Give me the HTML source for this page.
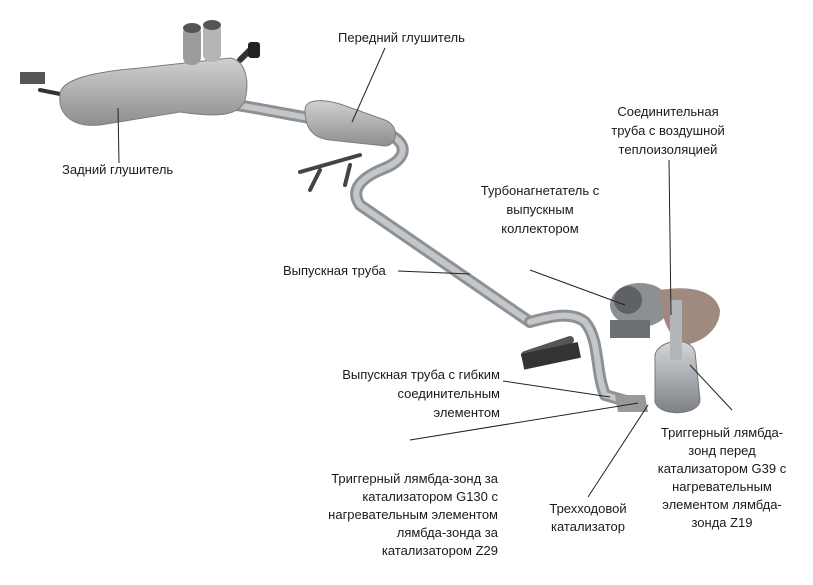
<!DOCTYPE html>
<html><head><meta charset="utf-8">
<style>
html,body{margin:0;padding:0;background:#fff;}
body{width:813px;height:585px;position:relative;overflow:hidden;font-family:"Liberation Sans","Noto Sans CJK SC",sans-serif;}
.t{position:absolute;font-size:13px;line-height:19px;color:#1a1a1a;white-space:nowrap;}
.c{text-align:center}.r{text-align:right}
svg{position:absolute;left:0;top:0}
</style></head><body>
<svg width="813" height="585" viewBox="0 0 813 585">
<defs>
<linearGradient id="g" x1="0" y1="0" x2="0" y2="1"><stop offset="0" stop-color="#d4d6d8"/><stop offset="0.5" stop-color="#a9adb1"/><stop offset="1" stop-color="#7c8186"/></linearGradient>
<linearGradient id="m" x1="0" y1="0" x2="0" y2="1"><stop offset="0" stop-color="#cfd0cf"/><stop offset="1" stop-color="#8e8f8d"/></linearGradient>
</defs>
<g fill="none" stroke-linecap="round" stroke-linejoin="round">
<!-- pipes -->
<path d="M175 103 C220 98 260 110 310 118" stroke="#8d9196" stroke-width="12"/>
<path d="M175 103 C220 98 260 110 310 118" stroke="#c4c7ca" stroke-width="6"/>
<path d="M390 135 C410 145 405 160 385 168 C360 178 350 190 360 205 L530 322" stroke="#8d9196" stroke-width="12"/>
<path d="M390 135 C410 145 405 160 385 168 C360 178 350 190 360 205 L530 322" stroke="#c4c7ca" stroke-width="6"/>
<path d="M530 322 C545 318 570 310 585 322 C600 340 595 370 605 395 L640 405" stroke="#8d9196" stroke-width="12"/>
<path d="M530 322 C545 318 570 310 585 322 C600 340 595 370 605 395 L640 405" stroke="#c4c7ca" stroke-width="6"/>
<path d="M40 90 L65 95" stroke="#333" stroke-width="4"/>
<path d="M240 60 L250 50" stroke="#333" stroke-width="6"/>
<path d="M300 172 L360 155 M310 190 L320 170 M345 185 L350 165" stroke="#444" stroke-width="4"/>
<path d="M525 355 L570 340" stroke="#555" stroke-width="8"/>
</g>
<!-- rear muffler -->
<path d="M60 95 C60 80 90 72 140 68 L230 58 C245 60 250 80 245 100 C240 115 220 118 180 112 L100 125 C70 128 58 112 60 95 Z" fill="url(#m)" stroke="#7d7e7c"/>
<rect x="183" y="25" width="18" height="40" rx="8" fill="#9a9c9e"/>
<rect x="203" y="22" width="18" height="40" rx="8" fill="#b3b5b7"/>
<ellipse cx="192" cy="28" rx="9" ry="5" fill="#555"/>
<ellipse cx="212" cy="25" rx="9" ry="5" fill="#555"/>
<rect x="248" y="42" width="12" height="16" rx="3" fill="#222"/>
<rect x="20" y="72" width="25" height="12" fill="#555"/>
<!-- front muffler -->
<path d="M305 110 C305 100 320 98 340 104 L385 120 C400 126 398 145 385 146 L330 140 C310 138 305 125 305 110 Z" fill="url(#m)" stroke="#7d7e7c"/>
<rect x="522" y="348" width="58" height="16" fill="#333" transform="rotate(-12 550 356)"/>
<!-- turbo & manifold -->
<ellipse cx="640" cy="305" rx="30" ry="22" fill="#8c8f93"/>
<ellipse cx="628" cy="300" rx="14" ry="14" fill="#5e6166"/>
<rect x="610" y="320" width="40" height="18" fill="#6d7075"/>
<path d="M660 290 C690 285 715 290 720 310 C720 330 700 345 680 345 C670 335 660 320 660 290 Z" fill="#a08a80"/>
<!-- catalytic converter -->
<path d="M655 355 C658 340 690 335 695 352 L700 400 C700 415 660 418 655 402 Z" fill="url(#g)" stroke="#777"/>
<rect x="670" y="300" width="12" height="60" fill="#b3b6b9"/>
<path d="M615 395 L645 395 L648 412 L618 412 Z" fill="#999"/>
<!-- leader lines -->
<g stroke="#222" stroke-width="1" fill="none">
<path d="M385 48 L352 122"/>
<path d="M119 163 L118 108"/>
<path d="M669 160 L671 315"/>
<path d="M530 270 L625 305"/>
<path d="M398 271 L470 274"/>
<path d="M503 381 L610 397"/>
<path d="M410 440 L638 403"/>
<path d="M588 497 L648 405"/>
<path d="M732 410 L690 365"/>
</g>
</svg>
<div class="t" style="left:338px;top:28px">Передний глушитель</div>
<div class="t" style="left:62px;top:160px">Задний глушитель</div>
<div class="t c" style="left:598px;top:102px;width:140px">Соединительная<br>труба с воздушной<br>теплоизоляцией</div>
<div class="t c" style="left:470px;top:181px;width:140px">Турбонагнетатель с<br>выпускным<br>коллектором</div>
<div class="t" style="left:283px;top:261px">Выпускная труба</div>
<div class="t r" style="left:300px;top:365px;width:200px">Выпускная труба с гибким<br>соединительным<br>элементом</div>
<div class="t r" style="left:290px;top:470px;width:208px;line-height:18px">Триггерный лямбда-зонд за<br>катализатором G130 с<br>нагревательным элементом<br>лямбда-зонда за<br>катализатором Z29</div>
<div class="t c" style="left:528px;top:500px;width:120px;line-height:18px">Трехходовой<br>катализатор</div>
<div class="t c" style="left:647px;top:424px;width:150px;line-height:18px">Триггерный лямбда-<br>зонд перед<br>катализатором G39 с<br>нагревательным<br>элементом лямбда-<br>зонда Z19</div>
</body></html>
